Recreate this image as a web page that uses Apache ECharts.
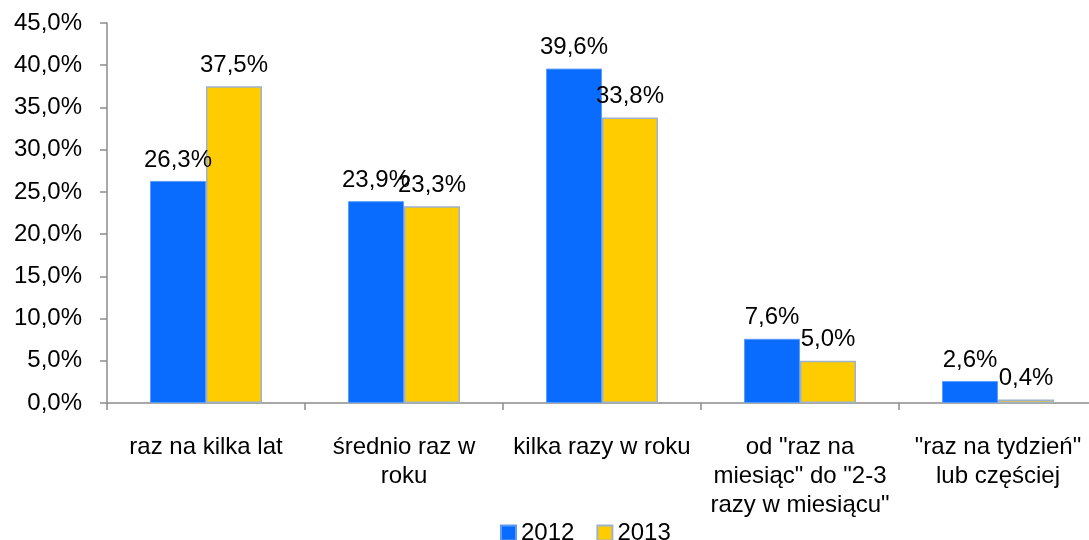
<!DOCTYPE html>
<html>
<head>
<meta charset="utf-8">
<script src="https://cdn.jsdelivr.net/npm/echarts@6/dist/echarts.min.js"></script>
<style>html,body{margin:0;padding:0;background:#fff;overflow:hidden}#c{width:1098px;height:540px}</style>
</head>
<body>
<div id="c"></div>
<script>
const categories = ['raz na kilka lat', 'średnio raz w\nroku', 'kilka razy w roku', 'od "raz na\nmiesiąc" do "2-3\nrazy w miesiącu"', '"raz na tydzień"\nlub częściej'];
const seriesNames = ['2012', '2013'];
const values2012 = [26.3, 23.9, 39.6, 7.6, 2.6];
const values2013 = [37.5, 23.3, 33.8, 5.0, 0.4];
const yMin = 0, yMax = 45, yStep = 5;

const FONT = "'Liberation Sans', Arial, sans-serif";
const fmt = v => v.toFixed(1).replace('.', ',') + '%';

const chart = echarts.init(document.getElementById('c'), null, {renderer: 'canvas'});
chart.setOption({
  animation: false,
  backgroundColor: '#ffffff',
  textStyle: {fontFamily: FONT, color: '#000'},
  grid: {left: 107, top: 23, width: 990, height: 380},
  legend: {
    data: seriesNames,
    left: 495, top: 516,
    itemWidth: 15, itemHeight: 15, itemGap: 22,
    icon: 'rect',
    textStyle: {fontFamily: FONT, fontSize: 24, color: '#000'}
  },
  xAxis: {
    type: 'category',
    data: categories,
    axisLine: {lineStyle: {color: '#8c8c8c', width: 1.5}},
    axisTick: {show: true, length: 7, lineStyle: {color: '#8c8c8c', width: 1.5}},
    axisLabel: {fontFamily: FONT, fontSize: 24, color: '#000', margin: 30, lineHeight: 29, interval: 0, align: 'center'}
  },
  yAxis: {
    type: 'value', min: yMin, max: yMax, interval: yStep,
    axisLine: {show: true, lineStyle: {color: '#8c8c8c', width: 1.5}},
    axisTick: {show: true, length: 7, lineStyle: {color: '#8c8c8c', width: 1.5}},
    splitLine: {show: false},
    axisLabel: {fontFamily: FONT, fontSize: 24, color: '#000', margin: 25, formatter: v => fmt(v)}
  },
  series: [
    {
      name: seriesNames[0], type: 'bar', data: values2012, barWidth: 56, barGap: '0%',
      itemStyle: {color: '#0a6cff', borderColor: '#5b9cf5', borderWidth: 1},
      label: {show: true, position: 'top', distance: 9, fontFamily: FONT, fontSize: 24, color: '#000', formatter: p => fmt(p.value)}
    },
    {
      name: seriesNames[1], type: 'bar', data: values2013, barWidth: 56,
      itemStyle: {color: '#ffcc00', borderColor: '#9db3cc', borderWidth: 1.5},
      label: {show: true, position: 'top', distance: 9, fontFamily: FONT, fontSize: 24, color: '#000', formatter: p => fmt(p.value)}
    }
  ]
});
</script>
</body>
</html>
